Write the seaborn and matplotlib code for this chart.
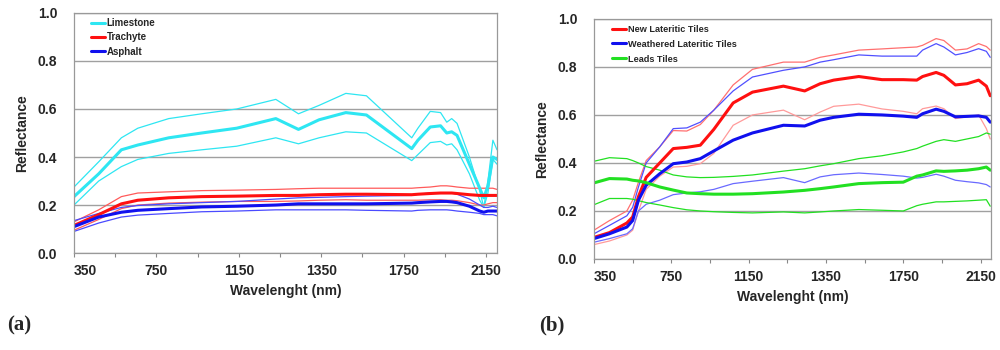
import matplotlib
matplotlib.use("Agg")
import matplotlib.pyplot as plt
import seaborn as sns

sns.set_theme(style="white")
plt.rcParams['font.family'] = ['Liberation Sans', 'DejaVu Sans']

# x positions in axis "tick units" (the axis is a category axis, labels every 2nd tick)
tick_labels = ['350', '750', '1150', '1350', '1750', '2150']

# ---- panel (a)
xa = [0, 0.6, 1.15, 1.55, 2.3, 3.1, 3.95, 4.9, 5.45, 5.95, 6.6, 7.1, 8.2, 8.35,
      8.65, 8.9, 9.05, 9.17, 9.3, 9.6, 9.85, 9.95, 10.05, 10.17, 10.27]

lime_mean = [0.235, 0.33, 0.43, 0.45, 0.48, 0.50, 0.52, 0.56, 0.515, 0.555, 0.585, 0.575, 0.435,
             0.47, 0.525, 0.53, 0.50, 0.505, 0.49, 0.37, 0.27, 0.23, 0.28, 0.40, 0.39]
lime_hi = [0.275, 0.38, 0.48, 0.52, 0.56, 0.58, 0.60, 0.64, 0.58, 0.615, 0.665, 0.655, 0.48,
           0.52, 0.59, 0.585, 0.545, 0.56, 0.54, 0.40, 0.26, 0.19, 0.30, 0.47, 0.43]
lime_lo = [0.20, 0.30, 0.36, 0.39, 0.415, 0.43, 0.445, 0.48, 0.455, 0.48, 0.505, 0.50, 0.385,
           0.41, 0.46, 0.465, 0.45, 0.455, 0.43, 0.33, 0.22, 0.19, 0.25, 0.39, 0.37]

trach_mean = [0.115, 0.16, 0.205, 0.22, 0.23, 0.235, 0.237, 0.24, 0.24, 0.243, 0.245, 0.245, 0.243,
              0.245, 0.248, 0.25, 0.25, 0.25, 0.248, 0.243, 0.24, 0.24, 0.24, 0.24, 0.24]
trach_hi = [0.13, 0.18, 0.235, 0.25, 0.255, 0.26, 0.262, 0.265, 0.268, 0.27, 0.27, 0.27, 0.27,
            0.272, 0.275, 0.28, 0.28, 0.278, 0.275, 0.27, 0.27, 0.27, 0.27, 0.27, 0.265]
trach_lo = [0.095, 0.14, 0.185, 0.20, 0.208, 0.212, 0.215, 0.215, 0.217, 0.22, 0.222, 0.22, 0.22,
            0.22, 0.222, 0.222, 0.22, 0.22, 0.218, 0.21, 0.20, 0.20, 0.205, 0.21, 0.21]

asph_mean = [0.11, 0.15, 0.17, 0.178, 0.185, 0.192, 0.195, 0.20, 0.205, 0.205, 0.205, 0.205, 0.208,
             0.21, 0.213, 0.215, 0.215, 0.213, 0.21, 0.195, 0.175, 0.17, 0.175, 0.175, 0.175]
asph_hi = [0.135, 0.165, 0.19, 0.198, 0.205, 0.21, 0.215, 0.225, 0.23, 0.232, 0.235, 0.237, 0.24,
           0.245, 0.25, 0.25, 0.25, 0.25, 0.245, 0.225, 0.20, 0.19, 0.19, 0.195, 0.19]
asph_lo = [0.09, 0.125, 0.15, 0.158, 0.165, 0.172, 0.175, 0.18, 0.18, 0.18, 0.18, 0.178, 0.175,
           0.178, 0.18, 0.18, 0.18, 0.178, 0.175, 0.17, 0.165, 0.16, 0.16, 0.16, 0.155]

# ---- panel (b)
xb = [0, 0.4, 0.85, 1.0, 1.15, 1.35, 1.7, 2.05, 2.4, 2.75, 3.1, 3.6, 4.1, 4.9, 5.45,
      5.85, 6.2, 6.85, 7.45, 8.0, 8.35, 8.5, 8.85, 9.05, 9.35, 9.65, 9.95, 10.15, 10.25]

new_mean = [0.09, 0.11, 0.15, 0.175, 0.26, 0.34, 0.40, 0.46, 0.465, 0.474, 0.54, 0.65, 0.695, 0.72, 0.70,
            0.73, 0.745, 0.76, 0.747, 0.747, 0.745, 0.76, 0.777, 0.765, 0.725, 0.73, 0.745, 0.72, 0.68]
new_hi = [0.12, 0.16, 0.20, 0.245, 0.32, 0.41, 0.467, 0.535, 0.533, 0.56, 0.62, 0.725, 0.79, 0.82, 0.82,
          0.84, 0.85, 0.87, 0.875, 0.88, 0.883, 0.89, 0.918, 0.91, 0.87, 0.875, 0.897, 0.885, 0.87]
new_lo = [0.06, 0.075, 0.10, 0.12, 0.20, 0.29, 0.345, 0.383, 0.386, 0.397, 0.44, 0.557, 0.60, 0.62, 0.58,
          0.612, 0.636, 0.645, 0.625, 0.615, 0.605, 0.626, 0.637, 0.626, 0.585, 0.592, 0.60, 0.543, 0.50]

wth_mean = [0.085, 0.105, 0.133, 0.16, 0.245, 0.307, 0.355, 0.397, 0.404, 0.418, 0.45, 0.495, 0.525, 0.557, 0.554,
            0.578, 0.59, 0.603, 0.60, 0.595, 0.59, 0.605, 0.624, 0.615, 0.592, 0.594, 0.596, 0.59, 0.57]
wth_hi = [0.105, 0.14, 0.18, 0.215, 0.30, 0.40, 0.467, 0.543, 0.546, 0.57, 0.62, 0.70, 0.758, 0.786, 0.80,
          0.82, 0.83, 0.85, 0.845, 0.845, 0.845, 0.87, 0.897, 0.883, 0.85, 0.86, 0.876, 0.865, 0.84]
wth_lo = [0.07, 0.085, 0.105, 0.126, 0.20, 0.228, 0.245, 0.268, 0.275, 0.28, 0.29, 0.314, 0.324, 0.339, 0.318,
          0.342, 0.351, 0.358, 0.352, 0.345, 0.337, 0.34, 0.353, 0.345, 0.328, 0.322, 0.317, 0.31, 0.30]

lead_mean = [0.317, 0.335, 0.333, 0.328, 0.325, 0.318, 0.30, 0.287, 0.275, 0.272, 0.27, 0.27, 0.272, 0.279, 0.286,
             0.293, 0.30, 0.314, 0.318, 0.32, 0.345, 0.35, 0.367, 0.365, 0.367, 0.37, 0.376, 0.383, 0.37]
lead_hi = [0.407, 0.422, 0.418, 0.41, 0.40, 0.385, 0.37, 0.35, 0.342, 0.339, 0.34, 0.344, 0.35, 0.366, 0.376,
           0.388, 0.397, 0.418, 0.43, 0.446, 0.46, 0.47, 0.49, 0.497, 0.49, 0.50, 0.51, 0.525, 0.52]
lead_lo = [0.226, 0.252, 0.252, 0.249, 0.243, 0.235, 0.225, 0.214, 0.205, 0.20, 0.197, 0.194, 0.192, 0.196, 0.192,
           0.196, 0.20, 0.206, 0.203, 0.20, 0.222, 0.228, 0.238, 0.238, 0.24, 0.242, 0.245, 0.247, 0.22]

CYAN = '#2ee6f2'
RED = '#ff1010'
BLUE = '#1010ee'
GREEN = '#22e022'

fig = plt.figure(figsize=(10, 3.5), dpi=100)
ax1 = fig.add_axes([0.074, 0.277, 0.423, 0.686])
ax2 = fig.add_axes([0.594, 0.26, 0.397, 0.686])


def style(ax):
    ax.set_xlim(0, 10.27)
    ax.set_ylim(0, 1.0)
    ax.set_xticks(range(11))
    ax.set_xticklabels([tick_labels[i // 2] if i % 2 == 0 else '' for i in range(11)],
                       fontsize=10, fontweight='bold')
    # first label starts at the tick instead of being centred on it
    ax.get_xticklabels()[0].set_horizontalalignment('left')
    ax.set_yticks([0, 0.2, 0.4, 0.6, 0.8, 1.0])
    ax.set_yticklabels(['0.0', '0.2', '0.4', '0.6', '0.8', '1.0'], fontsize=10, fontweight='bold')
    ax.tick_params(axis='x', length=3, width=0.8, color='#888888', pad=5, bottom=True)
    ax.tick_params(axis='y', length=0, pad=12)
    ax.yaxis.grid(True, color='#a0a0a0', lw=1.0)
    ax.set_axisbelow(True)
    for s in ax.spines.values():
        s.set_color('#999999')
        s.set_linewidth(0.9)
    ax.set_xlabel('Wavelenght (nm)', fontsize=10, fontweight='bold', labelpad=4)
    ax.set_ylabel('Reflectance', fontsize=10, fontweight='bold', labelpad=6)


# panel (a)
sns.lineplot(x=xa, y=lime_hi, ax=ax1, color=CYAN, lw=0.9)
sns.lineplot(x=xa, y=lime_lo, ax=ax1, color=CYAN, lw=0.9)
sns.lineplot(x=xa, y=trach_hi, ax=ax1, color='#ff5a5a', lw=0.9)
sns.lineplot(x=xa, y=trach_lo, ax=ax1, color='#ff5a5a', lw=0.9)
sns.lineplot(x=xa, y=asph_hi, ax=ax1, color='#4a4aff', lw=0.9)
sns.lineplot(x=xa, y=asph_lo, ax=ax1, color='#4a4aff', lw=0.9)
sns.lineplot(x=xa, y=lime_mean, ax=ax1, color=CYAN, lw=2.2, label='Limestone')
sns.lineplot(x=xa, y=trach_mean, ax=ax1, color=RED, lw=2.2, label='Trachyte')
sns.lineplot(x=xa, y=asph_mean, ax=ax1, color=BLUE, lw=2.2, label='Asphalt')
style(ax1)
ax1.legend(loc='upper left', bbox_to_anchor=(0.02, 1.015), frameon=False, handlelength=1.4,
           handletextpad=0.2, labelspacing=0.45, prop={'size': 7, 'weight': 'bold'})

# panel (b)
sns.lineplot(x=xb, y=new_hi, ax=ax2, color='#ff7070', lw=0.9)
sns.lineplot(x=xb, y=new_lo, ax=ax2, color='#ff9a9a', lw=0.9)
sns.lineplot(x=xb, y=wth_hi, ax=ax2, color='#5050ff', lw=0.9)
sns.lineplot(x=xb, y=wth_lo, ax=ax2, color='#6a6aff', lw=0.9)
sns.lineplot(x=xb, y=lead_hi, ax=ax2, color=GREEN, lw=0.9)
sns.lineplot(x=xb, y=lead_lo, ax=ax2, color=GREEN, lw=0.9)
sns.lineplot(x=xb, y=new_mean, ax=ax2, color=RED, lw=2.2, label='New Lateritic Tiles')
sns.lineplot(x=xb, y=wth_mean, ax=ax2, color=BLUE, lw=2.2, label='Weathered Lateritic Tiles')
sns.lineplot(x=xb, y=lead_mean, ax=ax2, color=GREEN, lw=2.2, label='Leads Tiles')
style(ax2)
ax2.legend(loc='upper left', bbox_to_anchor=(0.025, 1.01), frameon=False, handlelength=1.5,
           handletextpad=0.2, labelspacing=0.65, prop={'size': 6.6, 'weight': 'bold'})

fig.text(0.007, 1 - 325 / 350, '(a)', family=['Liberation Serif'], fontsize=15,
         fontweight='bold', va='center', ha='left')
fig.text(0.539, 1 - 325 / 350, '(b)', family=['Liberation Serif'], fontsize=15,
         fontweight='bold', va='center', ha='left')

fig.savefig('out.png', dpi=100)
